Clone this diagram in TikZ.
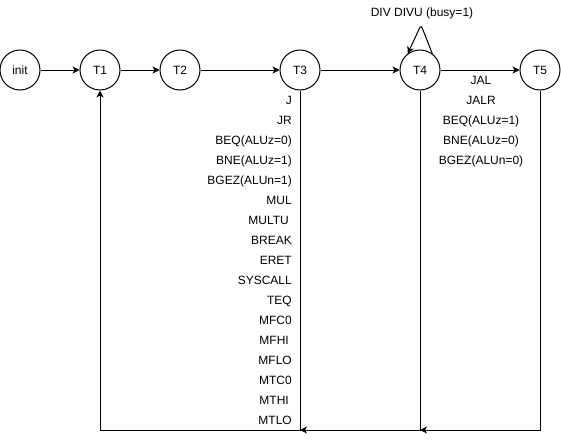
\documentclass[tikz,border=0pt]{standalone}
\usepackage{fontspec}
\setmainfont{Liberation Sans}
\usetikzlibrary{arrows.meta, positioning, calc}
\tikzset{
    state/.style={
        circle, draw, line width=1pt, minimum size=40pt, inner sep=0pt,
        font=\fontsize{12}{14}\selectfont
    },
    arrow/.style={-{Stealth[length=7pt, width=7pt, inset=2pt]}, line width=1pt},
    oplabel/.style={font=\fontsize{12}{14}\selectfont, inner sep=0pt, text height=8.6pt, text depth=0pt},
}

\begin{document}
\begin{tikzpicture}[x=1pt, y=-1pt]
    \useasboundingbox (0,0) rectangle (561,439);

    \node[state] (init) at (20,70) {init};
    \node[state] (T1) at (100,70) {T1};
    \node[state] (T2) at (180,70) {T2};
    \node[state] (T3) at (300,70) {T3};
    \node[state] (T4) at (420,70) {T4};
    \node[state] (T5) at (540,70) {T5};

    \draw[arrow] (init) -- (T1);
    \draw[arrow] (T1) -- (T2);
    \draw[arrow] (T2) -- (T3);
    \draw[arrow] (T3) -- (T4);
    \draw[arrow] (T4) -- (T5);

    % busy loop on T4
    \coordinate (loop) at (421,25);
    \draw[arrow, rounded corners=3pt] (T4.53) -- (loop) -- (T4.127);
    \node[oplabel] (busy) at (422,12) {DIV DIVU (busy=1)};

    % return paths
    \coordinate (ret3) at (300,430);
    \coordinate (ret4) at (420,430);
    \coordinate (ret5) at (540,430);
    \draw[arrow] (T3) -- (ret3) -| (T1);
    \draw[arrow] (T4) -- (ret4) -- (ret3);
    \draw[arrow] (T5) -- (ret5) -- (ret4);

    \foreach \op [count=\i] in {J, JR, BEQ(ALUz=0), BNE(ALUz=1), BGEZ(ALUn=1), MUL,
        MULTU\kern3pt, BREAK, ERET, SYSCALL, TEQ, MFC0, MFHI\kern3pt, MFLO, MTC0, MTHI\kern3pt, MTLO}
        \node[oplabel, anchor=east] (t3op\i) at (292, 80+20*\i) {\op};

    \foreach \op [count=\i] in {JAL, JALR, BEQ(ALUz=1), BNE(ALUz=0), BGEZ(ALUn=0)}
        \node[oplabel] (t4op\i) at (481, 60+20*\i) {\op};
\end{tikzpicture}
\end{document}
